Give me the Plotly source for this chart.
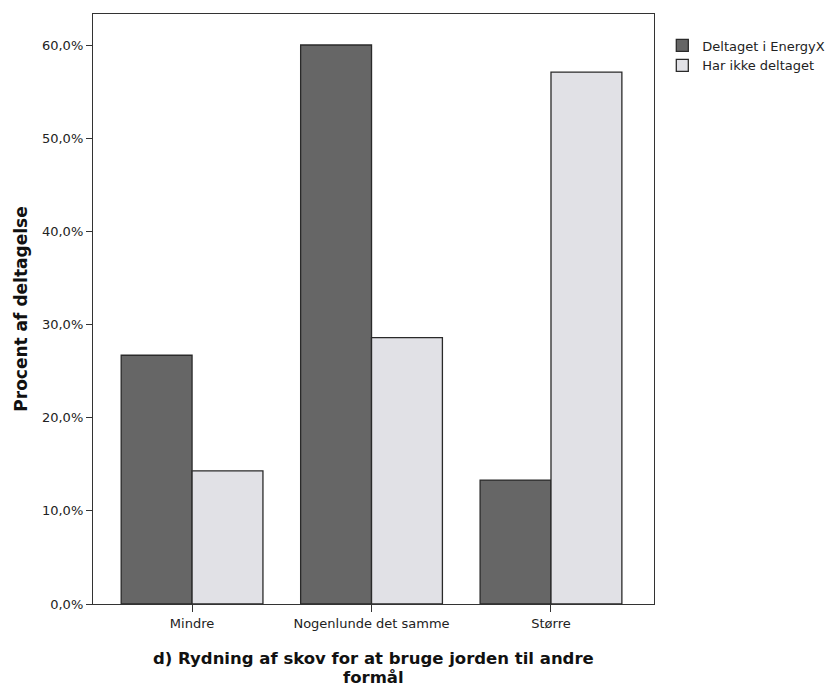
import plotly.graph_objects as go

categories = ["Mindre", "Nogenlunde det samme", "Større"]
series_names = ["Deltaget i EnergyX", "Har ikke deltaget"]
deltaget = [26.7, 60.0, 13.3]
ikke_deltaget = [14.3, 28.6, 57.1]
y_ticks = [0, 10, 20, 30, 40, 50, 60]
y_tick_text = [f"{v:.1f}%".replace(".", ",") for v in y_ticks]
x_title_lines = ["<b>d) Rydning af skov for at bruge jorden til andre</b>", "<b>formål</b>"]
y_title = "<b>Procent af deltagelse</b>"

colors = ["#666666", "#e1e1e6"]

fig = go.Figure()
for name, vals, col in zip(series_names, [deltaget, ikke_deltaget], colors):
    fig.add_trace(go.Bar(
        x=categories, y=vals, name=name,
        marker=dict(color=col, line=dict(color="#2a2a2a", width=1.3)),
    ))

font = "DejaVu Sans, Verdana, sans-serif"
fig.update_layout(
    width=831, height=689,
    margin=dict(l=93, r=177, t=14, b=85, autoexpand=False),
    paper_bgcolor="white", plot_bgcolor="white",
    barmode="group", bargap=0.21, bargroupgap=0,
    font=dict(family=font, size=13, color="#222"),
    showlegend=True,
    legend=dict(x=0.797, xref="container", y=0.972, xanchor="left", yanchor="top",
                font=dict(size=13, color="#222"), tracegroupgap=0,
                itemwidth=30, bgcolor="rgba(0,0,0,0)"),
    xaxis=dict(
        range=[-0.552, 2.574], showline=True, linecolor="#333", linewidth=1.3,
        mirror=True, ticks="outside", ticklen=7, tickcolor="#333", tickwidth=1.3,
        tickfont=dict(size=13, color="#222"), showgrid=False, automargin=False,
    ),
    yaxis=dict(
        range=[0, 63.33], tickvals=y_ticks, ticktext=y_tick_text,
        showline=True, linecolor="#333", linewidth=1.3, mirror=True,
        ticks="outside", ticklen=6, tickcolor="#333", tickwidth=1.3,
        tickfont=dict(size=13, color="#222"), showgrid=False, zeroline=False,
        automargin=False,
        title=dict(text=y_title, font=dict(size=17, color="#111"), standoff=9),
    ),
    annotations=[
        dict(text=line, xref="paper", yref="paper", x=0.5, y=0,
             xanchor="center", yanchor="middle", yshift=shift, showarrow=False,
             font=dict(size=16.5, color="#111"))
        for line, shift in zip(x_title_lines, [-54, -73])
    ],
)

fig.write_html("out.html", config={"displayModeBar": False},
               post_script="document.body.style.margin='0';document.body.style.overflow='hidden';")
